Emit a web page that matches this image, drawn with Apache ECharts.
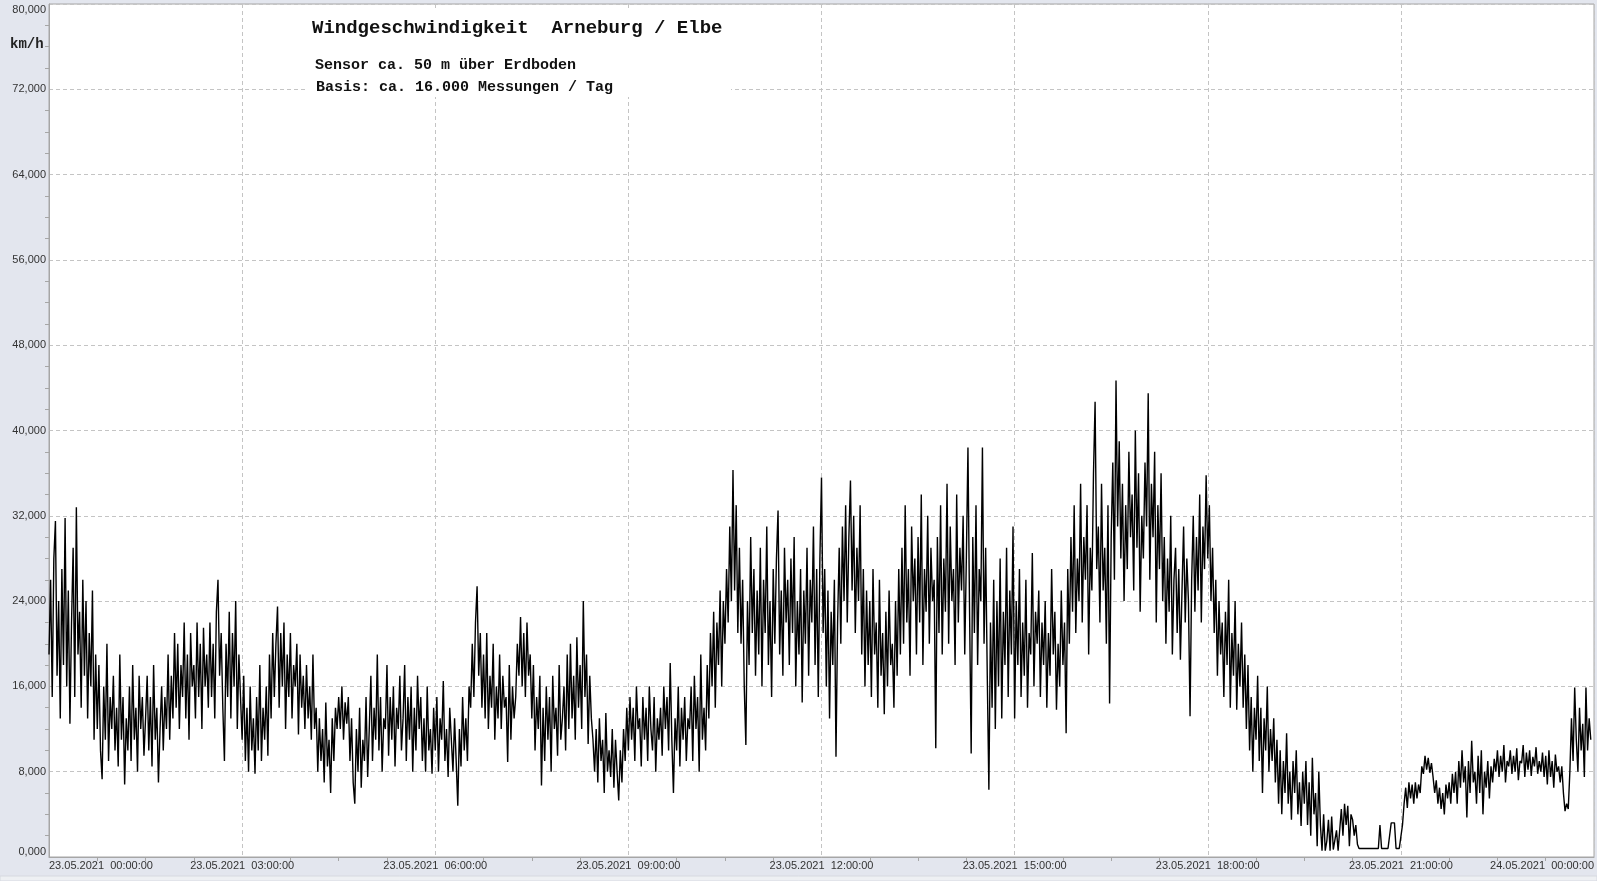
<!DOCTYPE html>
<html>
<head>
<meta charset="utf-8">
<script src="https://cdn.jsdelivr.net/npm/echarts@6/dist/echarts.min.js"></script>
<style>
html,body{margin:0;padding:0;background:#e3e6ee;}
#chart{width:1597px;height:881px;}
</style>
</head>
<body>
<div id="chart"></div>
<script>
// Wind speed (km/h), one value every 1.5 minutes
const stepMinutes = 1.5;
const speed_00_03 = [
 19,26,15,28,31.5,17,24,13,27,18,
 31.8,16,25,12.5,22,29,15,32.8,19,23,
 14,26,17,24,13,21,16,25,11,19,
 12,18,10,7.3,16,11,20,9,15,12,
 17,10,14,8.5,19,11,15,6.8,13,10,
 16,9,18,11,14,8,17,12,15,9.5,
 13,17,10,15,8.5,18,11,14,7,12,
 16,10,15,12,19,11,17,13,21,14,
 20,12,18,15,22,13,19,11,21,16,
 18,13,22,15,20,12,21.5,16,19,14,
 22,15,20,13,23,26,17,21,14,9,
 20,15,23,13,21,16,24,12,19,15
];
const speed_03_06 = [
 11,17,9,14,8,16,10,13,7.8,15,
 10,18,9,14,11,16,9.5,19,13,21,
 15,20,23.5,14,21,16,22,12,19,15,
 21,13,18,16,20,11.5,19,14,17,12,
 18,13,16,11,19,12,14,8,13,9,
 12,7,14.5,8.5,11,6,13,9,14,12,
 15,12,16,11,14.5,12.5,15,9,13,7,
 5,12,8,14,6.5,11,9,15,7.5,12,
 17,9,14,11,19,10,15,8,13,12,
 18,9.5,15,11,16,8.5,14,12,17,10,
 13,18,9,15,11,16,8,14,10,17,
 12,15,9,13,8,16,10,12,7.8,14
];
const speed_06_09 = [
 10,15,8,13,11,16.5,9,12,7.5,14,
 11,8,13,9,4.8,12,8.5,15,10,13,
 9,16,14,20,15,22,25.4,17,21,14,
 19,13,21,12,17,14,20,11,16,13,
 19,12,17,14,15,8.9,18,11,16,13,
 15,20,17,22.5,16,21,15,22,17,19,
 13,18,10,15,12,17,6.7,14,9,16,
 11,15,8,17,12,14,9.5,18,11,13,
 16,10,19,12,20,13,17,11,20.6,14,
 18,12,24,15,19,10.6,17,13,11,8,
 12,7,13,9,11,6,13.5,8,10,7.5,
 12,6.5,11,8,5.3,10,7,12,9,14
];
const speed_09_12 = [
 10,15,11,14,9,16,12,13,8.5,15,
 11,14,9,16,12,10,15,8,13,11,
 14,9.5,16,12,15,10,18.2,11,6,13,
 10,16,8.5,14,11,15,9,13,12,16,
 9,17,12,15,8,19,11,14,10,18,
 13,21,16,23,14,22,18,25,16,24,
 20,27,22,31,24,36.3,25,33,21,29,
 20,26,16,10.5,24,18,30,21,27,17,
 25,19,29,16,26,21,31,18,24,15,
 27,20,28,32.5,19,25,17,29,22,26,
 18,28,21,30,16,24,19,27,14.5,25,
 20,29,17,26,22,31,18,27,15,28
];
const speed_12_15 = [
 35.6,21,27,16,25,13,23,18,26,9.4,
 22,29,20,31,24,33,22,30,35.3,25,
 32,21,29,24,33,19,27,16,25,18,
 24,15,27,19,22,14,26,17,21,13.4,
 23,16,25,18,20,14,24,17,27,19,
 29,20,33,22,27,17,31,24,28,19,
 30,22,34,18,27,23,32,20,29,24,
 26,10.2,30,21,33,19,28,23,35,20,
 31,24,27,18,34,22,29,25,32,19,
 28,38.4,23,9.7,30,21,33,18,27,24,
 38.4,20,29,17,6.3,22,14,26,12,24,
 16,28,13,23,18,29,15,25,19,31
];
const speed_15_18 = [
 13,24,18,27,15,22,17,26,14,21,
 19,28.5,16,23,20,25,15,22,18,24,
 14,21,17,27,19,23,13.8,20,16,25,
 18,22,11.6,27,20,30,23,33,21,28,
 24,35,22,30,26,33,19,29,25,36,
 42.7,27,31,22,35,25,29,20,33,14.4,
 30,37,26,44.7,31,39,28,35,24,33,
 27,38,30,34,25,40,29,36,23,32,
 28,37,31,43.5,26,35,30,38,22,33,
 27,36,24,30,20,28,23,32,19,26,
 29,21,27,18.5,25,31,22,28,24,13.2,
 26,32,23,30,25,34,22,31,27,35.8
];
const speed_18_21 = [
 28,33,24,29,21,26,17,24,19,22,
 15,23,18,26,14,21,17,24,13.8,20,
 16,22,14,19,12,18,10,15,8,14,
 11,17,9,14,6,13,10,16,8,12,
 9,13,7,11,5,10,4,9,6,11.6,
 5,8,3.5,9,6,10,4,7,2.9,8,
 5,9,3,7,2,9.3,4,6,1,8,
 3,0.6,4,0.6,1.5,3.5,0.6,3.8,0.7,0.6,
 2.5,0.6,0.7,4.5,2,5,3,4.8,1,4,
 3.5,2,3,1.2,0.8,0.8,0.8,0.8,0.8,0.8,
 0.8,0.8,0.8,0.8,0.8,0.8,0.8,3,0.8,0.8,
 0.8,0.8,0.8,0.8,3.2,3.1,3.2,0.8,0.8,0.8
];
const speed_21_24 = [
 0.8,3,5,6.5,4.6,7,5.5,6.8,5,7,
 5.5,6.8,6,8.5,7.8,9.5,8.2,9.3,7.9,8.8,
 7.5,6,7.2,5,6.5,4.5,6,4,6.8,5.5,
 7,5,7.8,6,8,5,9,6.5,10,7,
 8.5,3.7,9,6,10.9,7,8,5,9.5,6,
 10,4,8,6.5,9,5.5,8.5,7,9.2,8,
 10,7.5,9.5,8,10.5,7,9,8.5,10,7.8,
 9.5,8,10.2,7.2,9,8.8,10.5,7.5,9.8,8.2,
 10,7.6,9.4,8.5,10.3,7.8,9,8,9.8,7.5,
 9.5,6.8,10,7.5,9,6.5,9.6,8,8.5,7,
 8.5,6,4.3,5,4.5,8,13,9,15.9,11,
 8,14,10,12.5,7.5,15.9,10,13,11
];
const xTickLabels = [
 '23.05.2021  00:00:00','23.05.2021  03:00:00','23.05.2021  06:00:00',
 '23.05.2021  09:00:00','23.05.2021  12:00:00','23.05.2021  15:00:00',
 '23.05.2021  18:00:00','23.05.2021  21:00:00','24.05.2021  00:00:00'
];
const titleText = 'Windgeschwindigkeit  Arneburg / Elbe';
const subtitle1 = 'Sensor ca. 50 m über Erdboden';
const subtitle2 = 'Basis: ca. 16.000 Messungen / Tag';
const unitText = 'km/h';

const allSpeeds = [].concat(speed_00_03, speed_03_06, speed_06_09, speed_09_12,
  speed_12_15, speed_15_18, speed_18_21, speed_21_24);
const seriesData = allSpeeds.map((v, i) => [i * stepMinutes, v]);

const chart = echarts.init(document.getElementById('chart'), null, {renderer: 'canvas'});
const labelFont = {fontFamily: 'Liberation Sans, Arial, sans-serif', fontSize: 11, color: '#333'};
const gridLine = {show: true, lineStyle: {color: '#c4c4c4', type: [4, 3], width: 1}};

chart.setOption({
  animation: false,
  backgroundColor: '#e3e6ee',
  grid: {left: 49, top: 4, right: 3, bottom: 24, show: true, backgroundColor: '#ffffff', borderColor: '#a6a6a6', borderWidth: 1, containLabel: false},
  xAxis: {
    type: 'value', min: 0, max: 1440, interval: 180,
    axisLine: {show: true, lineStyle: {color: '#a6a6a6'}},
    axisTick: {show: false},
    minorTick: {show: true, splitNumber: 4, length: 4, lineStyle: {color: '#a6a6a6'}},
    splitLine: gridLine,
    axisLabel: Object.assign({
      margin: 3, alignMinLabel: 'left', alignMaxLabel: 'right',
      formatter: v => xTickLabels[Math.round(v / 180)]
    }, labelFont)
  },
  yAxis: {
    type: 'value', min: 0, max: 80, interval: 8,
    axisLine: {show: true, lineStyle: {color: '#a6a6a6'}},
    axisTick: {show: false},
    minorTick: {show: true, splitNumber: 4, length: 4, lineStyle: {color: '#a6a6a6'}},
    splitLine: gridLine,
    axisLabel: Object.assign({
      margin: 3, verticalAlignMinLabel: 'bottom', verticalAlignMaxLabel: 'top',
      formatter: v => v.toFixed(3).replace('.', ',')
    }, labelFont)
  },
  series: [{
    type: 'line', data: seriesData, symbol: 'none', sampling: null,
    lineStyle: {color: '#000000', width: 1.4}, z: 3
  }],
  graphic: [
    {type: 'rect', shape: {x: 305, y: 10, width: 426, height: 87}, style: {fill: '#ffffff'}, z: 1, silent: true},
    {type: 'rect', shape: {x: 0, y: 876, width: 1597, height: 5}, style: {fill: '#eef0f3', stroke: '#d6d9e0', lineWidth: 1}, z: 1, silent: true},
    {type: 'text', x: 312, y: 28, z: 2, style: {text: titleText, font: 'bold 19px "Liberation Mono", "Courier New", monospace', fill: '#111', verticalAlign: 'middle'}},
    {type: 'text', x: 315, y: 65, z: 2, style: {text: subtitle1, font: 'bold 15px "Liberation Mono", "Courier New", monospace', fill: '#111', verticalAlign: 'middle'}},
    {type: 'text', x: 316, y: 87, z: 2, style: {text: subtitle2, font: 'bold 15px "Liberation Mono", "Courier New", monospace', fill: '#111', verticalAlign: 'middle'}},
    {type: 'text', x: 10, y: 44, z: 2, style: {text: unitText, font: 'bold 14px "Liberation Mono", "Courier New", monospace', fill: '#222', verticalAlign: 'middle'}}
  ]
});
</script>
</body>
</html>
